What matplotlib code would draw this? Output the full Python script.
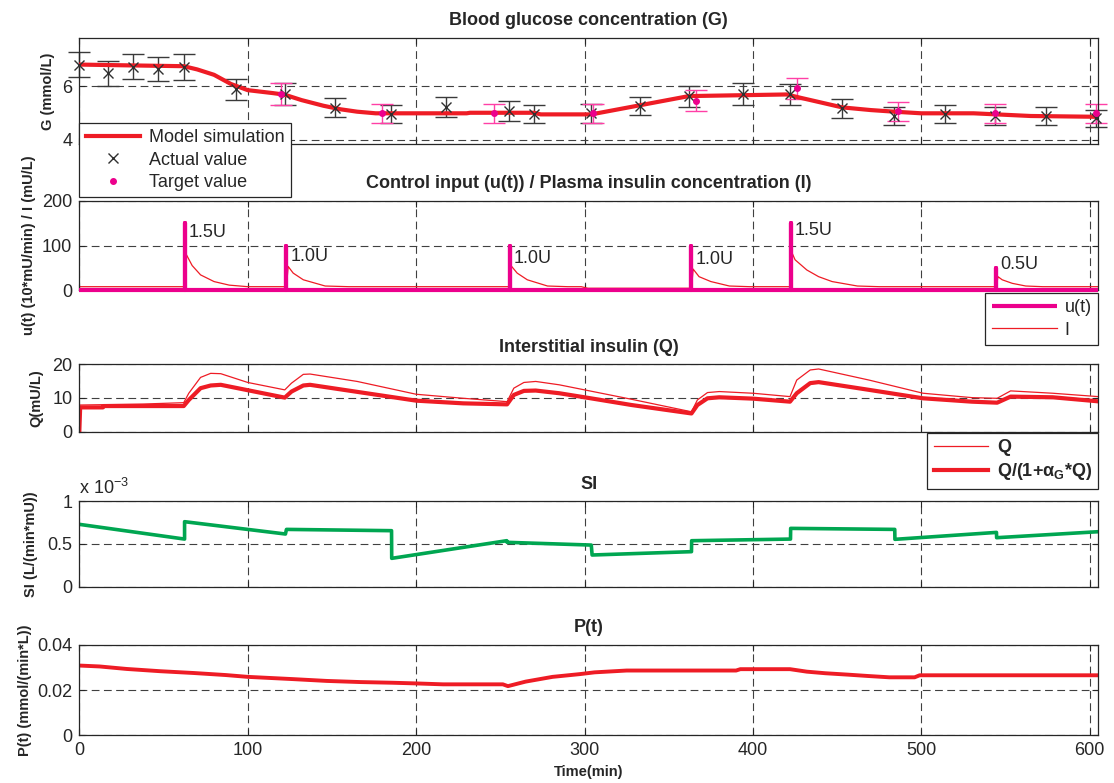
import matplotlib
matplotlib.use("Agg")
import matplotlib.pyplot as plt
import numpy as np
from matplotlib.ticker import FuncFormatter

# ---- data ------------------------------------------------------------------
T_END = 605

# blood glucose: model curve (breakpoints), measured points, targets (mmol/L)
G_model_t = [0, 30, 62, 70, 80, 90, 100, 115, 122, 132, 145, 155, 165, 176,
             230, 232, 270, 274, 304, 362, 420, 428, 453, 470, 484, 500, 531, 565, 605]
G_model = [6.80, 6.77, 6.74, 6.62, 6.42, 6.08, 5.85, 5.74, 5.68, 5.48, 5.27, 5.14, 5.05, 4.99,
           4.99, 5.01, 5.01, 4.95, 4.95, 5.63, 5.69, 5.57, 5.21, 5.11, 5.05, 4.99, 4.99, 4.89, 4.86]
act_t = [0, 17, 32, 47, 62, 93, 122, 152, 185, 218, 255, 270,
         304, 333, 362, 394, 422, 453, 484, 514, 544, 574, 604]
act_G = [6.80, 6.47, 6.72, 6.64, 6.71, 5.88, 5.69, 5.20, 4.95, 5.23, 5.07, 4.95,
         4.99, 5.26, 5.63, 5.69, 5.69, 5.17, 4.89, 4.95, 4.89, 4.89, 4.80]
act_err = [0.46, 0.45, 0.47, 0.45, 0.47, 0.39, 0.41, 0.35, 0.33, 0.36, 0.37, 0.33,
           0.35, 0.35, 0.39, 0.41, 0.40, 0.35, 0.33, 0.33, 0.34, 0.33, 0.33]
tgt_t = [120, 180, 246, 305, 366, 426, 486, 544, 604]
tgt_G = [5.70, 4.99, 4.99, 4.99, 5.46, 5.92, 5.06, 4.99, 4.99]
tgt_err = [0.40, 0.35, 0.35, 0.36, 0.38, 0.40, 0.35, 0.35, 0.35]

# insulin boluses u(t) (10*mU/min) and plasma insulin I (mU/L)
bolus_t = [62.5, 123, 255.5, 363.5, 422.5, 544.5]
bolus_u = [150, 100, 100, 100, 150, 50]
bolus_label = ["1.5U", "1.0U", "1.0U", "1.0U", "1.5U", "0.5U"]
I_t = [0, 62.5, 63.5, 67, 72, 80, 89, 100, 123, 124, 127, 133, 146, 160,
       255.5, 256.5, 260, 266, 278, 290, 298, 302, 363.5, 364.5, 368, 375, 386, 398,
       422.5, 423.5, 425, 432, 439, 447, 462, 475, 544.5, 545.5, 548, 554, 562, 572, 605]
I_v = [7.5, 7.5, 80, 55, 34, 19, 11, 7.5, 7.5, 53, 38, 23, 9, 7.5,
       7.5, 54, 38, 23, 9, 7.5, 7.5, 4, 4, 47, 30, 19, 9, 7.5,
       7.5, 81, 68, 45, 30, 19, 9, 7.5, 7.5, 30, 23, 15, 9, 7.5, 7.5]

# interstitial insulin Q and Q/(1+aG*Q) (mU/L)
Q_t = [0, 38, 62, 65, 72, 78, 84, 100, 122, 126, 133, 137, 165, 200, 228, 254,
       258, 264, 271, 285, 300, 328, 363.5, 367, 373, 380, 400, 422,
       426, 434, 439, 469, 501, 530, 545, 553, 578, 605]
Q_v = [7.9, 8.2, 8.6, 11.4, 16.1, 17.3, 17.2, 14.6, 12.4, 14.4, 17.0, 17.1, 14.9, 11.1, 9.9, 8.9,
       12.9, 14.6, 14.9, 13.9, 12.4, 9.6, 5.9, 9.4, 11.6, 11.9, 11.4, 10.4,
       15.3, 18.3, 18.6, 15.3, 11.4, 10.1, 9.9, 12.1, 11.4, 10.4]
Qf_t = [0, 0.5, 14, 14.5, 62, 65, 72, 78, 84, 122, 126, 133, 137, 200, 228, 254,
        258, 264, 271, 285, 300, 328, 363.5, 367, 373, 380, 400, 422,
        426, 434, 439, 469, 501, 530, 545, 553, 578, 605]
Qf_v = [0, 7.2, 7.2, 7.6, 7.6, 9.4, 12.9, 13.7, 13.9, 10.1, 11.9, 13.7, 13.9, 9.2, 8.4, 8.1,
        10.9, 12.1, 12.2, 11.4, 10.2, 7.9, 5.4, 7.9, 9.9, 10.2, 9.8, 8.9,
        11.4, 14.4, 14.7, 12.4, 9.9, 8.9, 8.6, 10.4, 10.2, 9.0]

# insulin sensitivity SI (L/(min*mU))
SI_t = [0, 62.5, 62.5, 122.4, 123, 185.4, 185.5, 253.8, 254, 304, 304.5,
        363.5, 363.6, 422.3, 422.4, 484.2, 484.3, 544.6, 544.7, 605]
SI_v = [0.728e-3, 0.556e-3, 0.759e-3, 0.615e-3, 0.669e-3, 0.654e-3, 0.331e-3, 0.537e-3,
        0.518e-3, 0.486e-3, 0.370e-3, 0.409e-3, 0.537e-3, 0.556e-3, 0.681e-3, 0.669e-3,
        0.553e-3, 0.634e-3, 0.572e-3, 0.642e-3]

# P(t) (mmol/(min*L))
P_t = [0, 12, 28, 48, 68, 87, 100, 127, 147, 167, 186, 200, 216, 251.5, 254.5, 265, 281, 297,
       306, 325, 390, 392.5, 422, 432, 443, 456, 468, 481, 496, 499, 605]
P_v = [0.0309, 0.0305, 0.0294, 0.0284, 0.0276, 0.0267, 0.0259, 0.0249, 0.0241, 0.0236,
       0.0233, 0.0230, 0.0226, 0.0226, 0.0218, 0.0238, 0.0259, 0.0271, 0.0279, 0.0287,
       0.0287, 0.0293, 0.0293, 0.0282, 0.0275, 0.0269, 0.0263, 0.0257, 0.0257, 0.0266, 0.0266]

# ---- style -------------------------------------------------------------------
RED = "#ee1c25"
MAGENTA = "#ec008c"
PINK = "#ff3fa6"
GREEN = "#00a651"
INK = "#262626"

plt.rcParams.update({
    "font.family": ["Liberation Sans", "DejaVu Sans"],
    "mathtext.fontset": "custom",
    "mathtext.rm": "Liberation Sans",
    "mathtext.it": "Liberation Sans:italic",
    "mathtext.bf": "Liberation Sans:bold",
    "text.color": INK,
    "axes.labelcolor": INK,
})

fig = plt.figure(figsize=(11.14, 7.83), dpi=100)
LEFT, WIDTH = 0.0712, 0.9146
rects = [(0.8161, 0.1358), (0.6296, 0.1137), (0.4487, 0.0861), (0.2507, 0.1094), (0.0607, 0.1156)]
axes = [fig.add_axes([LEFT, y0, WIDTH, h]) for y0, h in rects]
ax1, ax2, ax3, ax4, ax5 = axes
for z, ax in zip([5, 4, 3, 2, 1], axes):
    ax.set_zorder(z)


def style(ax, ylim, yticks, title, ylabel, label_x):
    ax.set_xlim(0, T_END)
    ax.set_ylim(*ylim)
    ax.set_xticks(np.arange(0, 601, 100))
    ax.set_yticks(yticks)
    ax.yaxis.set_major_formatter(FuncFormatter(lambda v, _: f"{v:g}"))
    ax.grid(True, color="#404040", linewidth=0.8, linestyle=(0, (7, 4)))
    ax.tick_params(direction="in", length=4, width=0.8, colors=INK, labelsize=13,
                   pad=5, top=True, right=True)
    for s in ax.spines.values():
        s.set_color(INK)
        s.set_linewidth(0.9)
    ax.set_title(title, fontsize=13, fontweight="bold", pad=9)
    ax.set_ylabel(ylabel, fontsize=10.5, fontweight="bold")
    ax.yaxis.set_label_coords(label_x, 0.5)


def legend(ax, handles, anchor, loc, **kw):
    leg = ax.legend(handles=handles, loc=loc, bbox_to_anchor=anchor, borderaxespad=0,
                    fontsize=13, fancybox=False, framealpha=1, edgecolor=INK,
                    labelspacing=0.3, borderpad=0.35, **kw)
    leg.get_frame().set_linewidth(0.9)
    leg.set_zorder(10)
    return leg


# ---- panel 1: glucose ----------------------------------------------------------
style(ax1, (3.85, 7.8), [4, 6], "Blood glucose concentration (G)", "G (mmol/L)", -0.024)
eb = ax1.errorbar(act_t, act_G, yerr=act_err, fmt="none", ecolor="#3a3a3a",
                  elinewidth=1, capsize=8, capthick=1, zorder=2)
tb = ax1.errorbar(tgt_t, tgt_G, yerr=tgt_err, fmt="none", ecolor=PINK,
                  elinewidth=1, capsize=8, capthick=1, zorder=2)
for cont in (eb, tb):
    for art in list(cont.lines[1]) + list(cont.lines[2]):
        art.set_clip_on(False)
h_model, = ax1.plot(G_model_t, G_model, color=RED, lw=3, label="Model simulation", zorder=3)
h_act, = ax1.plot(act_t, act_G, "x", color="#303030", ms=7, mew=1, label="Actual value",
                  zorder=4, clip_on=False)
h_tgt, = ax1.plot(tgt_t, tgt_G, ".", color=MAGENTA, ms=8, label="Target value",
                  zorder=5, clip_on=False)
legend(ax1, [h_model, h_act, h_tgt], (0, 0.198), "upper left",
       handlelength=3, handletextpad=0.5)

# ---- panel 2: control input / plasma insulin ------------------------------------
style(ax2, (0, 200), [0, 100, 200],
      "Control input (u(t)) / Plasma insulin concentration (I)",
      "u(t) (10*mU/min) / I (mU/L)", -0.0425)
u_t, u_v = [0], [0]
for t, v in zip(bolus_t, bolus_u):
    u_t += [t, t, t]
    u_v += [0, v, 0]
u_t.append(T_END)
u_v.append(0)
h_I, = ax2.plot(I_t, I_v, color=RED, lw=0.9, label="I", zorder=2)
h_u, = ax2.plot(u_t, u_v, color=MAGENTA, lw=3, label="u(t)", zorder=3,
                solid_capstyle="butt", clip_on=False)
label_y = [130, 75, 71, 68, 134, 57]
for t, lab, ly in zip(bolus_t, bolus_label, label_y):
    ax2.text(t + 2.5, ly, lab, fontsize=13, ha="left", va="center", zorder=4)
legend(ax2, [h_u, h_I], (1, -0.034), "upper right", handlelength=3.6, handletextpad=0.45)

# ---- panel 3: interstitial insulin ---------------------------------------------
style(ax3, (0, 20), [0, 10, 20], "Interstitial insulin (Q)", "Q(mU/L)", -0.0356)
h_Q, = ax3.plot(Q_t, Q_v, color=RED, lw=0.9, label="Q")
h_Qf, = ax3.plot(Qf_t, Qf_v, color=RED, lw=3, label=r"Q/(1+α$_\mathbf{G}$*Q)")
legend(ax3, [h_Q, h_Qf], (1, -0.015), "upper right", handlelength=3.0,
       handletextpad=0.5, prop={"weight": "bold", "size": 13})

# ---- panel 4: SI ------------------------------------------------------------------
style(ax4, (0, 1e-3), [0, 0.5e-3, 1e-3], "SI", "SI (L/(min*mU))", -0.041)
ax4.yaxis.set_major_formatter(FuncFormatter(lambda v, _: f"{v * 1e3:g}"))
ax4.text(0.0, 1.03, r"x 10$^{-3}$", transform=ax4.transAxes, fontsize=13,
         ha="left", va="bottom")
ax4.plot(SI_t, SI_v, color=GREEN, lw=2.6)

# ---- panel 5: P(t) -----------------------------------------------------------------
style(ax5, (0, 0.04), [0, 0.02, 0.04], "P(t)", "P(t) (mmol/(min*L))", -0.046)
ax5.plot(P_t, P_v, color=RED, lw=2.8)
ax5.set_xlabel("Time(min)", fontsize=10.5, fontweight="bold")
ax5.xaxis.set_label_coords(0.5, -0.33)

for ax in axes[:-1]:
    ax.tick_params(labelbottom=False)

fig.savefig("out.png", dpi=100)
